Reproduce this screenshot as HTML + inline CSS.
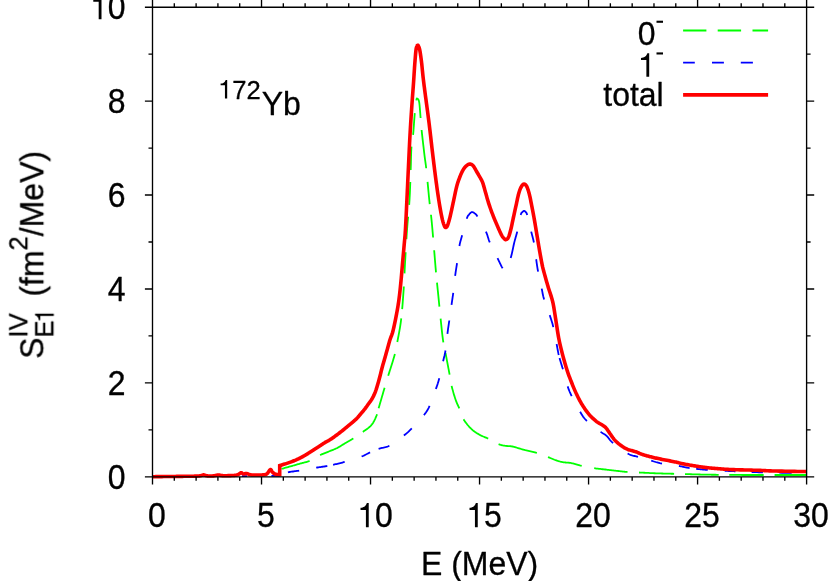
<!DOCTYPE html><html><head><meta charset="utf-8"><title>plot</title>
<style>html,body{margin:0;padding:0;background:#fff;}svg{display:block;}text{font-family:"Liberation Sans",sans-serif;fill:#000;}</style></head><body>
<svg width="830" height="581" viewBox="0 0 830 581">
<rect width="830" height="581" fill="#fff"/>
<g fill="none" stroke-linejoin="miter" stroke-miterlimit="3" stroke-linecap="butt">
<path d="M281.50,468.90 L282.09,468.73 L282.83,468.52 L283.72,468.27 L284.71,467.98 L285.78,467.67 L286.91,467.35 L288.07,467.02 L289.24,466.69 L290.38,466.36 L291.47,466.05 L292.49,465.76 L293.40,465.50 L294.24,465.26 L295.04,465.04 L295.81,464.82 L296.55,464.62 L297.27,464.42 L297.97,464.23 L298.65,464.04 L299.33,463.85 L300.00,463.66 L300.66,463.48 L301.33,463.29 L302.00,463.10 L302.66,462.92 L303.29,462.76 L303.90,462.62 L304.50,462.49 L305.09,462.35 L305.68,462.21 L306.28,462.06 L306.89,461.89 L307.52,461.70 L308.18,461.47 L308.87,461.21 L309.60,460.90 M320.10,455.10 L320.85,454.74 L321.57,454.41 L322.26,454.11 L322.93,453.83 L323.58,453.56 L324.22,453.31 L324.85,453.07 L325.48,452.83 L326.12,452.59 L326.76,452.34 L327.42,452.08 L328.10,451.80 L328.80,451.52 L329.50,451.23 L330.21,450.96 L330.92,450.68 L331.64,450.40 L332.36,450.11 L333.08,449.82 L333.80,449.52 L334.53,449.21 L335.25,448.89 L335.98,448.55 L336.70,448.20 L337.42,447.83 L338.15,447.43 L338.88,447.02 L339.62,446.60 L340.35,446.16 L341.09,445.72 L341.82,445.27 L342.55,444.83 L343.27,444.38 L343.99,443.94 L344.70,443.52 L345.40,443.10 L346.09,442.70 L346.76,442.31 L347.41,441.94 L348.06,441.57 L348.71,441.20 L349.35,440.84 L350.00,440.47 L350.65,440.09 L351.31,439.69 L351.99,439.28 L352.68,438.85 L353.40,438.40 M362.90,431.90 L363.65,431.35 L364.41,430.82 L365.16,430.28 L365.91,429.75 L366.66,429.21 L367.39,428.67 L368.11,428.13 L368.81,427.57 L369.48,427.01 L370.12,426.42 L370.73,425.82 L371.30,425.20 L371.83,424.55 L372.33,423.89 L372.81,423.20 L373.25,422.50 L373.67,421.78 L374.07,421.06 L374.45,420.33 L374.80,419.59 L375.15,418.86 L375.47,418.13 L375.79,417.41 L376.10,416.70 L376.38,416.04 L376.61,415.43 L376.80,414.88 L376.97,414.34 M378.60,408.30 L378.99,406.99 L379.43,405.49 L379.91,403.83 L380.43,402.05 L380.97,400.19 L381.53,398.28 L382.09,396.35 L382.65,394.45 L383.19,392.61 L383.70,390.86 L384.17,389.25 L384.60,387.80 M388.20,375.80 L388.66,374.30 L389.19,372.63 L389.76,370.83 L390.36,368.93 L390.99,366.96 L391.62,364.96 L392.26,362.95 L392.87,360.98 L393.45,359.08 L394.00,357.27 L394.48,355.60 L394.90,354.10 M397.30,342.00 L397.57,340.56 L397.86,339.05 L398.16,337.46 L398.48,335.80 L398.81,334.08 L399.14,332.30 L399.48,330.46 L399.81,328.56 L400.13,326.62 L400.44,324.62 L400.73,322.58 L401.00,320.50 L401.25,318.36 M402.17,309.11 L402.38,306.67 L402.58,304.19 L402.77,301.69 L402.96,299.17 L403.14,296.65 L403.32,294.12 L403.50,291.60 L403.67,289.07 L403.83,286.51 M404.52,273.40 L404.65,270.75 L404.78,268.10 L404.91,265.46 L405.05,262.82 L405.20,260.20 L405.35,257.58 L405.50,254.95 L405.65,252.31 M406.42,239.15 L406.59,236.55 L406.75,233.98 L406.92,231.42 L407.10,228.90 L407.29,226.41 L407.48,223.96 L407.69,221.53 L407.91,219.13 L408.13,216.74 M409.16,204.85 L409.34,202.44 L409.50,200.00 L409.64,197.51 L409.78,194.97 L409.90,192.39 L410.01,189.79 L410.11,187.17 L410.21,184.57 L410.30,181.99 M410.70,170.00 L410.77,167.86 L410.83,165.77 L410.89,163.73 L410.93,161.75 L410.98,159.82 L411.02,157.95 L411.06,156.14 L411.11,154.39 L411.17,152.69 L411.23,151.06 L411.31,149.50 L411.40,148.00 L411.51,146.62 M413.10,134.80 L413.24,133.26 L413.39,131.57 L413.53,129.76 L413.67,127.86 L413.82,125.91 L413.96,123.92 L414.11,121.93 L414.25,119.98 L414.39,118.09 L414.53,116.29 L414.67,114.62 L414.80,113.10 M416.30,100.40 L416.40,99.86 L416.50,99.42 L416.59,99.08 L416.67,98.82 L416.75,98.64 L416.83,98.53 L416.91,98.48 L417.00,98.47 L417.09,98.49 L417.18,98.55 L417.29,98.62 L417.40,98.70 L417.53,98.78 L417.66,98.85 L417.81,98.94 L417.96,99.06 L418.12,99.21 L418.28,99.41 L418.44,99.67 L418.60,100.01 L418.76,100.42 L418.92,100.94 L419.06,101.56 L419.20,102.30 L419.33,103.20 L419.46,104.26 L419.59,105.46 L419.71,106.77 L419.83,108.17 L419.95,109.62 L420.07,111.11 L420.18,112.59 L420.29,114.05 L420.39,115.46 L420.50,116.78 L420.60,118.00 M421.60,130.00 L421.78,131.68 L421.98,133.57 L422.21,135.64 L422.46,137.84 L422.72,140.14 L422.99,142.48 L423.27,144.84 L423.54,147.16 L423.80,149.41 L424.05,151.54 L424.29,153.52 L424.50,155.30 L424.69,156.85 L424.86,158.19 L425.02,159.36 L425.17,160.42 L425.31,161.40 L425.45,162.36 L425.59,163.33 L425.73,164.36 L425.88,165.50 L426.04,166.79 L426.21,168.27 M427.56,181.84 L427.82,184.56 L428.08,187.31 L428.33,190.05 L428.59,192.72 L428.83,195.30 L429.07,197.74 L429.30,200.00 L429.52,202.10 L429.73,204.10 M430.96,214.77 L431.15,216.47 L431.33,218.18 L431.52,219.92 L431.70,221.70 L431.87,223.49 L432.04,225.23 L432.20,226.96 L432.35,228.67 L432.50,230.38 L432.65,232.10 L432.80,233.85 L432.95,235.63 L433.10,237.47 M434.16,250.23 L434.36,252.68 L434.56,255.17 L434.77,257.70 L434.97,260.23 L435.18,262.76 L435.39,265.24 L435.59,267.68 L435.80,270.04 L436.00,272.30 M437.00,282.68 L437.20,284.65 L437.40,286.60 L437.60,288.54 L437.80,290.49 L438.00,292.44 L438.20,294.41 L438.40,296.40 L438.60,298.42 L438.80,300.47 L439.00,302.53 L439.21,304.60 L439.41,306.67 M440.61,318.65 L440.80,320.50 L440.99,322.31 L441.17,324.09 L441.36,325.85 L441.54,327.59 L441.72,329.29 L441.89,330.95 L442.07,332.58 L442.25,334.16 L442.43,335.70 L442.62,337.19 L442.81,338.62 L443.00,340.00 L443.19,341.28 L443.38,342.43 M445.50,352.90 L445.79,354.43 L446.12,356.13 L446.46,357.95 L446.83,359.87 L447.20,361.84 L447.58,363.85 L447.96,365.85 L448.33,367.81 L448.69,369.70 L449.02,371.48 L449.33,373.13 L449.60,374.60 M451.60,385.90 L451.87,387.00 L452.17,388.15 L452.49,389.36 L452.83,390.60 L453.18,391.87 L453.55,393.13 L453.92,394.39 L454.29,395.62 L454.66,396.81 L455.02,397.95 L455.37,399.02 L455.70,400.00 L456.02,400.89 L456.32,401.70 L456.62,402.44 L456.91,403.13 L457.20,403.78 L457.49,404.40 L457.78,405.01 L458.07,405.63 L458.36,406.26 L458.67,406.92 L458.98,407.63 L459.30,408.40 M463.60,419.30 L464.12,420.16 L464.68,421.02 L465.27,421.88 L465.89,422.73 L466.53,423.57 L467.19,424.41 L467.86,425.22 L468.55,426.01 L469.24,426.78 L469.93,427.52 L470.62,428.23 L471.30,428.90 L471.98,429.53 L472.67,430.13 L473.37,430.71 L474.08,431.25 L474.79,431.77 L475.51,432.27 L476.22,432.75 L476.94,433.20 L477.66,433.65 L478.38,434.07 L479.09,434.49 L479.80,434.90 L480.50,435.28 L481.18,435.63 L481.86,435.94 L482.53,436.24 L483.21,436.51 L483.88,436.78 L484.56,437.05 L485.26,437.32 L485.96,437.60 L486.69,437.91 L487.43,438.24 L488.20,438.60 M498.60,444.10 L499.28,444.38 L499.90,444.61 L500.48,444.82 L501.03,444.99 L501.55,445.13 L502.05,445.25 L502.54,445.35 L503.03,445.45 L503.52,445.53 L504.02,445.62 L504.55,445.71 L505.10,445.80 L505.66,445.88 L506.20,445.94 L506.74,445.98 L507.27,446.01 L507.81,446.03 L508.36,446.04 L508.92,446.07 L509.52,446.10 L510.15,446.16 L510.81,446.24 L511.53,446.35 L512.30,446.50 L513.13,446.69 L514.02,446.91 L514.95,447.17 L515.92,447.44 L516.93,447.74 L517.96,448.05 L519.01,448.37 L520.08,448.69 L521.15,449.01 L522.21,449.32 L523.26,449.62 L524.30,449.90 L525.33,450.17 L526.38,450.42 L527.44,450.67 L528.51,450.92 L529.58,451.16 L530.66,451.41 L531.73,451.65 L532.79,451.90 L533.84,452.16 L534.88,452.43 L535.90,452.71 L536.90,453.00 M548.00,457.10 L548.76,457.40 L549.49,457.69 L550.18,457.97 L550.84,458.25 L551.47,458.52 L552.09,458.78 L552.70,459.04 L553.30,459.29 L553.89,459.53 L554.48,459.76 L555.09,459.98 L555.70,460.20 L556.31,460.41 L556.92,460.61 L557.51,460.80 L558.09,460.99 L558.67,461.17 L559.26,461.34 L559.84,461.50 L560.43,461.66 L561.03,461.80 L561.64,461.94 L562.26,462.08 L562.90,462.20 L563.55,462.31 L564.21,462.39 L564.87,462.46 L565.54,462.51 L566.21,462.56 L566.90,462.61 L567.60,462.65 L568.31,462.71 L569.03,462.77 L569.77,462.86 L570.53,462.97 L571.30,463.10 L572.09,463.26 L572.89,463.45 L573.71,463.66 L574.54,463.88 L575.39,464.11 L576.24,464.36 L577.12,464.61 L578.00,464.86 L578.91,465.10 L579.82,465.35 L580.75,465.58 L581.70,465.80 M594.20,468.20 L595.35,468.37 L596.53,468.53 L597.74,468.68 L598.98,468.83 L600.23,468.97 L601.48,469.11 L602.73,469.25 L603.98,469.38 L605.20,469.51 L606.40,469.64 L607.57,469.77 L608.70,469.90 L609.80,470.03 L610.90,470.16 L612.00,470.29 L613.08,470.41 L614.14,470.54 L615.18,470.66 L616.20,470.78 L617.18,470.90 L618.12,471.01 L619.03,471.11 L619.89,471.21 L620.70,471.30 L621.43,471.38 L622.08,471.46 L622.66,471.53 L623.18,471.59 L623.66,471.65 L624.13,471.71 L624.60,471.76 L625.08,471.81 L625.59,471.86 L626.15,471.90 L626.79,471.95 L627.50,472.00 M639.00,472.50 L640.22,472.56 L641.50,472.62 L642.84,472.69 L644.22,472.76 L645.64,472.83 L647.09,472.90 L648.56,472.97 L650.05,473.04 L651.54,473.11 L653.04,473.18 L654.53,473.24 L656.00,473.30 L657.49,473.35 L659.04,473.40 L660.62,473.45 L662.22,473.50 L663.83,473.54 L665.43,473.58 L667.01,473.62 L668.56,473.66 L670.06,473.70 L671.49,473.73 L672.84,473.77 L674.10,473.80 M685.00,474.10 L686.32,474.14 L687.77,474.18 L689.33,474.22 L690.96,474.26 L692.65,474.31 L694.38,474.36 L696.11,474.40 L697.84,474.45 L699.54,474.49 L701.18,474.53 L702.74,474.57 L704.20,474.60 L705.52,474.63 L706.69,474.65 L707.76,474.67 L708.76,474.69 L709.72,474.70 L710.69,474.72 L711.71,474.73 L712.80,474.74 L714.00,474.76 L715.37,474.77 L716.92,474.78 L718.70,474.80 M729.28,474.89 L731.73,474.91 L734.33,474.93 L737.09,474.95 L740.02,474.96 L743.14,474.98 L746.46,474.99 L750.00,475.00 L754.00,475.01 L758.60,475.01 L763.66,475.01 M774.58,475.01 L780.16,475.01 L785.63,475.01 L790.85,475.01 L795.68,475.00 L799.97,475.00 L803.59,475.00 L806.40,475.00" stroke="#00ff00" stroke-width="1.80"/>
<path d="M241.9,476.1H247M271.4,475.8H279.8 M287.90,472.30 L288.69,472.14 L289.50,472.00 L290.32,471.86 L291.17,471.73 L292.05,471.61 L292.96,471.49 L293.90,471.36 L294.87,471.23 L295.89,471.10 L296.94,470.95 L298.05,470.78 L299.20,470.60 M316.20,467.70 L317.35,467.51 L318.45,467.34 L319.51,467.18 L320.53,467.03 L321.51,466.88 L322.45,466.74 L323.35,466.61 L324.21,466.49 L325.04,466.36 L325.82,466.24 L326.58,466.12 L327.30,466.00 M333.10,464.80 L333.85,464.62 L334.65,464.44 L335.49,464.24 L336.38,464.04 L337.30,463.82 L338.27,463.59 L339.27,463.34 L340.30,463.09 L341.36,462.81 L342.45,462.52 L343.56,462.22 L344.70,461.90 M361.62,456.50 L362.57,456.11 L363.45,455.72 L364.28,455.33 L365.06,454.94 L365.81,454.56 L366.54,454.19 L367.24,453.81 L367.95,453.45 L368.65,453.09 L369.36,452.74 L370.10,452.40 M378.60,448.80 L379.41,448.55 L380.22,448.34 L381.05,448.16 L381.89,447.99 L382.75,447.83 L383.63,447.66 L384.52,447.47 L385.44,447.24 L386.39,446.96 L387.36,446.62 L388.36,446.21 L389.40,445.70 M403.90,435.50 L404.78,434.81 L405.55,434.20 L406.24,433.63 L406.87,433.10 L407.45,432.59 L408.00,432.09 L408.54,431.57 L409.10,431.03 L409.68,430.45 L410.32,429.81 L411.02,429.10 L411.80,428.30 M423.90,415.10 L424.60,414.22 L425.21,413.42 L425.76,412.70 L426.25,412.02 L426.70,411.37 L427.11,410.73 L427.51,410.08 L427.89,409.39 L428.28,408.65 L428.69,407.83 L429.12,406.92 L429.60,405.90 M435.90,389.00 L436.28,387.91 L436.63,386.92 L436.94,386.01 L437.23,385.17 L437.50,384.38 L437.76,383.60 L438.00,382.82 L438.24,382.03 L438.49,381.19 L438.74,380.28 L439.01,379.29 L439.30,378.20 M443.10,361.30 L443.35,360.21 L443.58,359.23 L443.81,358.34 L444.01,357.51 L444.21,356.73 L444.41,355.97 L444.59,355.20 L444.77,354.41 L444.95,353.56 L445.13,352.65 L445.31,351.63 L445.50,350.50 M447.44,333.81 L447.60,332.50 L447.75,331.31 L447.90,330.21 L448.04,329.19 L448.17,328.24 L448.30,327.32 L448.43,326.43 L448.56,325.54 L448.70,324.64 L448.84,323.70 L448.98,322.71 L449.14,321.65 L449.30,320.50 M451.52,304.85 L451.70,303.60 L451.87,302.44 L452.02,301.37 L452.17,300.37 L452.31,299.42 L452.45,298.50 L452.58,297.60 L452.71,296.70 L452.84,295.78 L452.98,294.83 L453.11,293.83 L453.25,292.76 M455.14,275.98 L455.30,274.70 L455.46,273.51 L455.61,272.38 L455.77,271.31 L455.92,270.28 L456.08,269.28 L456.23,268.29 L456.39,267.31 L456.54,266.32 L456.70,265.31 L456.87,264.26 L457.03,263.16 M459.40,246.00 L459.59,245.00 L459.76,244.12 L459.93,243.34 L460.09,242.62 L460.26,241.95 L460.43,241.30 L460.61,240.64 L460.81,239.96 L461.02,239.21 L461.25,238.39 L461.51,237.46 L461.80,236.40 L462.13,235.17 M466.70,218.80 L466.98,217.98 L467.23,217.30 L467.45,216.77 L467.64,216.34 L467.82,216.01 L467.98,215.76 L468.14,215.55 L468.29,215.38 L468.45,215.22 L468.62,215.05 L468.80,214.85 L469.00,214.60 L469.22,214.32 L469.44,214.04 L469.66,213.77 L469.90,213.50 L470.13,213.25 L470.37,213.01 L470.61,212.79 L470.85,212.60 L471.09,212.42 L471.33,212.28 L471.57,212.17 L471.80,212.10 L472.03,212.06 L472.27,212.06 L472.50,212.09 L472.73,212.15 L472.96,212.23 L473.19,212.34 L473.43,212.46 L473.66,212.61 L473.89,212.77 L474.13,212.94 L474.36,213.11 L474.60,213.30 L474.82,213.46 L475.01,213.59 L475.19,213.70 L475.36,213.81 L475.52,213.93 L475.70,214.09 L475.90,214.29 L476.12,214.56 L476.39,214.90 L476.70,215.35 L477.07,215.91 L477.50,216.60 M485.90,231.60 L486.37,232.63 L486.77,233.59 L487.10,234.48 L487.39,235.33 L487.65,236.15 L487.89,236.96 L488.13,237.77 L488.39,238.59 L488.66,239.45 L488.98,240.37 L489.36,241.34 L489.80,242.40 M497.50,258.10 L498.01,259.13 L498.48,260.12 L498.93,261.07 L499.36,261.97 L499.77,262.84 L500.16,263.66 L500.53,264.43 L500.90,265.17 L501.25,265.86 L501.60,266.52 L501.95,267.13 L502.30,267.70 L502.64,268.26 M510.70,258.10 L511.04,256.86 L511.38,255.57 L511.70,254.24 L512.01,252.87 L512.32,251.49 L512.62,250.10 L512.91,248.72 L513.20,247.36 L513.48,246.04 L513.75,244.76 L514.03,243.54 L514.30,242.40 L514.56,241.35 L514.82,240.38 L515.06,239.49 L515.30,238.65 L515.53,237.84 L515.76,237.05 L515.98,236.26 L516.21,235.44 L516.45,234.59 L516.69,233.67 L516.94,232.68 L517.20,231.60 M520.70,215.10 L520.90,214.38 L521.07,213.81 L521.23,213.38 L521.37,213.07 L521.49,212.85 L521.61,212.70 L521.72,212.61 L521.82,212.54 L521.93,212.49 L522.04,212.43 L522.17,212.34 L522.30,212.20 L522.44,212.03 L522.59,211.86 L522.74,211.70 L522.89,211.55 L523.04,211.41 L523.19,211.29 L523.35,211.18 L523.50,211.08 L523.65,211.00 L523.80,210.95 L523.95,210.91 L524.10,210.90 L524.25,210.91 L524.39,210.95 L524.54,211.00 L524.69,211.08 L524.83,211.18 L524.98,211.29 L525.12,211.41 L525.26,211.55 L525.40,211.70 L525.54,211.86 L525.67,212.03 L525.80,212.20 L525.92,212.34 L526.02,212.43 L526.11,212.49 L526.19,212.54 L526.27,212.61 L526.36,212.70 L526.45,212.85 L526.55,213.07 L526.67,213.38 L526.82,213.81 L526.99,214.38 L527.20,215.10 M531.20,231.60 L531.48,232.75 L531.76,233.83 L532.03,234.86 L532.29,235.84 L532.54,236.79 L532.78,237.72 L533.02,238.65 L533.25,239.58 L533.47,240.53 L533.69,241.51 L533.90,242.53 M536.16,259.25 L536.32,260.38 L536.48,261.49 L536.63,262.58 L536.78,263.66 L536.94,264.75 L537.11,265.84 L537.28,266.96 L537.46,268.09 L537.66,269.25 L537.87,270.45 L538.10,271.70 M541.70,288.60 L541.93,289.69 L542.13,290.68 L542.30,291.59 L542.46,292.43 L542.60,293.22 L542.75,294.00 L542.91,294.78 L543.08,295.57 L543.27,296.41 L543.51,297.32 L543.78,298.31 L544.10,299.40 M549.69,315.09 L550.10,316.30 L550.46,317.39 L550.79,318.38 L551.09,319.29 L551.37,320.13 L551.63,320.92 L551.87,321.70 L552.10,322.48 L552.33,323.27 L552.56,324.11 L552.79,325.02 L553.04,326.01 L553.30,327.10 M556.60,344.00 L556.83,345.17 L557.03,346.27 L557.23,347.31 L557.41,348.31 L557.59,349.28 L557.76,350.23 L557.94,351.16 L558.12,352.09 L558.32,353.02 L558.52,353.98 L558.75,354.97 M559.56,358.11 L559.86,359.17 L560.17,360.24 L560.49,361.31 L560.83,362.40 L561.16,363.50 L561.51,364.62 L561.85,365.75 L562.20,366.91 L562.55,368.09 L562.90,369.30 M567.65,386.37 L567.99,387.34 L568.31,388.25 L568.62,389.10 L568.93,389.92 L569.25,390.72 L569.58,391.52 L569.94,392.33 L570.32,393.18 L570.74,394.08 L571.19,395.04 L571.70,396.10 M580.10,411.80 L580.70,412.79 L581.25,413.69 L581.75,414.52 L582.23,415.29 L582.70,416.01 L583.17,416.71 L583.66,417.38 L584.18,418.06 L584.75,418.74 L585.39,419.45 L586.10,420.20 L586.90,421.00 M600.60,431.80 L601.37,432.37 L602.04,432.84 L602.63,433.22 L603.15,433.55 L603.62,433.83 L604.05,434.07 L604.45,434.31 L604.85,434.55 L605.25,434.81 L605.66,435.11 L606.11,435.47 L606.60,435.90 L607.10,436.38 L607.56,436.88 L608.00,437.41 L608.43,437.95 L608.87,438.52 L609.32,439.11 L609.80,439.72 L610.32,440.35 L610.90,441.00 L611.55,441.68 L612.28,442.38 L613.10,443.10 M627.60,453.50 L628.60,454.03 L629.54,454.47 L630.42,454.83 L631.27,455.14 L632.08,455.39 L632.88,455.61 L633.68,455.81 L634.48,456.00 L635.30,456.19 L636.15,456.39 L637.05,456.62 L638.00,456.90 M651.20,460.70 L652.16,460.97 L653.07,461.24 L653.93,461.50 L654.75,461.75 L655.56,462.00 L656.37,462.24 L657.19,462.47 L658.04,462.70 L658.93,462.93 L659.87,463.16 L660.89,463.38 L662.00,463.60 M678.90,466.00 L679.89,466.17 L680.78,466.33 L681.57,466.49 L682.28,466.64 L682.94,466.78 L683.55,466.92 L684.14,467.06 L684.72,467.20 L685.31,467.33 L685.92,467.45 L686.58,467.58 L687.30,467.70 L688.06,467.82 L688.83,467.93 L689.61,468.04 M696.15,468.81 L697.00,468.90 L697.84,468.99 L698.67,469.08 L699.48,469.17 L700.29,469.25 L701.11,469.34 L701.95,469.42 L702.81,469.50 L703.71,469.58 L704.65,469.66 L705.63,469.74 L706.68,469.82 L707.80,469.90 M724.70,470.80 L725.80,470.86 L726.81,470.90 L727.74,470.95 L728.61,470.99 L729.45,471.03 L730.25,471.06 L731.05,471.10 L731.85,471.13 L732.68,471.17 L733.56,471.21 L734.49,471.25 L735.50,471.30 M751.64,472.05 L753.35,472.11 L755.14,472.16 L756.99,472.21 L758.90,472.26 L760.88,472.31 L762.92,472.36 M779.29,472.71 L782.27,472.76 L785.38,472.82 L788.55,472.88 L791.70,472.94" stroke="#0000ff" stroke-width="1.80"/>
<path d="M152.50,476.70 L153.35,476.69 L154.43,476.68 L155.70,476.66 L157.13,476.65 L158.68,476.63 L160.31,476.61 L162.00,476.59 L163.70,476.57 L165.39,476.55 L167.03,476.54 L168.57,476.52 L170.00,476.50 L171.35,476.48 L172.68,476.47 L174.00,476.45 L175.30,476.43 L176.58,476.42 L177.84,476.40 L179.09,476.38 L180.31,476.37 L181.52,476.35 L182.70,476.33 L183.86,476.32 L185.00,476.30 L186.13,476.28 L187.27,476.27 L188.40,476.26 L189.52,476.24 L190.62,476.23 L191.69,476.22 L192.72,476.20 L193.70,476.19 L194.63,476.17 L195.50,476.15 L196.29,476.13 L197.00,476.10 L197.62,476.07 L198.15,476.04 L198.60,476.00 L198.98,475.96 L199.30,475.92 L199.59,475.88 L199.84,475.84 L200.07,475.79 L200.29,475.75 L200.51,475.70 L200.74,475.65 L201.00,475.60 L201.27,475.54 L201.52,475.48 L201.75,475.41 L201.98,475.33 L202.19,475.25 L202.40,475.18 L202.60,475.10 L202.80,475.04 L203.00,474.98 L203.19,474.94 L203.39,474.91 L203.60,474.90 L203.81,474.91 L204.00,474.94 L204.20,474.98 L204.39,475.04 L204.58,475.11 L204.77,475.18 L204.97,475.26 L205.16,475.34 L205.36,475.41 L205.57,475.48 L205.78,475.55 L206.00,475.60 L206.22,475.65 L206.44,475.69 L206.66,475.74 L206.88,475.78 L207.11,475.82 L207.34,475.86 L207.58,475.89 L207.83,475.92 L208.10,475.95 L208.38,475.97 L208.68,475.99 L209.00,476.00 L209.35,476.01 L209.73,476.01 L210.13,476.01 L210.54,476.00 L210.98,475.99 L211.42,475.98 L211.87,475.96 L212.31,475.93 L212.75,475.91 L213.18,475.87 L213.60,475.84 L214.00,475.80 L214.38,475.75 L214.76,475.69 L215.14,475.61 L215.51,475.53 L215.87,475.44 L216.23,475.35 L216.59,475.26 L216.94,475.19 L217.28,475.12 L217.63,475.06 L217.96,475.02 L218.30,475.00 L218.63,475.00 L218.95,475.02 L219.26,475.06 L219.57,475.11 L219.87,475.18 L220.18,475.24 L220.47,475.31 L220.77,475.39 L221.08,475.45 L221.38,475.51 L221.69,475.56 L222.00,475.60 L222.30,475.63 L222.59,475.65 L222.86,475.67 L223.12,475.69 L223.38,475.70 L223.66,475.71 L223.95,475.71 L224.26,475.71 L224.60,475.71 L224.99,475.71 L225.42,475.71 L225.90,475.70 L226.46,475.69 L227.09,475.68 L227.79,475.66 L228.54,475.65 L229.32,475.63 L230.11,475.61 L230.91,475.58 L231.68,475.55 L232.43,475.52 L233.12,475.48 L233.75,475.44 L234.30,475.40 L234.77,475.35 L235.20,475.31 L235.57,475.26 L235.90,475.21 L236.21,475.15 L236.48,475.09 L236.74,475.03 L236.99,474.96 L237.23,474.88 L237.47,474.80 L237.73,474.70 L238.00,474.60 L238.28,474.48 L238.56,474.32 L238.83,474.15 L239.10,473.96 L239.36,473.77 L239.62,473.58 L239.88,473.39 L240.13,473.21 L240.38,473.06 L240.62,472.94 L240.86,472.85 L241.10,472.80 L241.33,472.80 L241.55,472.85 L241.76,472.93 L241.96,473.04 L242.16,473.17 L242.36,473.32 L242.56,473.47 L242.76,473.61 L242.96,473.75 L243.17,473.86 L243.38,473.95 L243.60,474.00 L243.82,474.01 L244.04,473.99 L244.25,473.95 L244.47,473.89 L244.69,473.82 L244.91,473.74 L245.14,473.66 L245.39,473.59 L245.64,473.53 L245.91,473.49 L246.19,473.48 L246.50,473.50 L246.82,473.55 L247.14,473.64 L247.46,473.75 L247.80,473.87 L248.14,474.01 L248.51,474.16 L248.89,474.31 L249.29,474.46 L249.72,474.60 L250.18,474.72 L250.67,474.82 L251.20,474.90 L251.78,474.96 L252.42,475.00 L253.11,475.03 L253.83,475.05 L254.58,475.06 L255.34,475.06 L256.11,475.06 L256.87,475.05 L257.61,475.04 L258.32,475.03 L258.99,475.01 L259.60,475.00 L260.18,474.99 L260.73,474.97 L261.27,474.96 L261.80,474.94 L262.30,474.92 L262.78,474.89 L263.24,474.86 L263.68,474.83 L264.10,474.78 L264.49,474.73 L264.86,474.67 L265.20,474.60 L265.51,474.53 L265.77,474.45 L265.99,474.37 L266.19,474.29 L266.36,474.20 L266.52,474.10 L266.67,473.99 L266.81,473.87 L266.96,473.73 L267.12,473.57 L267.30,473.40 L267.50,473.20 L267.72,472.96 L267.96,472.66 L268.20,472.31 L268.46,471.94 L268.71,471.55 L268.97,471.16 L269.23,470.79 L269.48,470.44 L269.72,470.13 L269.96,469.88 L270.19,469.70 L270.40,469.60 L270.60,469.59 L270.79,469.66 L270.98,469.80 L271.15,469.99 L271.32,470.23 L271.49,470.49 L271.65,470.77 L271.80,471.05 L271.96,471.33 L272.11,471.59 L272.25,471.82 L272.40,472.00 L272.54,472.15 L272.67,472.30 L272.80,472.43 L272.91,472.56 L273.03,472.68 L273.14,472.79 L273.26,472.90 L273.37,473.01 L273.49,473.11 L273.62,473.21 L273.76,473.30 L273.90,473.40 L274.05,473.49 L274.20,473.59 L274.35,473.67 L274.50,473.76 L274.65,473.84 L274.81,473.92 L274.98,473.99 L275.16,474.06 L275.35,474.13 L275.55,474.19 L275.77,474.25 L276.00,474.30 L276.26,474.35 L276.57,474.39 L276.90,474.42 L277.25,474.46 L277.62,474.48 L277.98,474.51 L278.34,474.53 L278.68,474.54 L279.00,474.56 L279.28,474.57 L279.52,474.59 L279.70,474.60 L279.70,474.60 L279.70,465.60 L279.70,465.60 L280.08,465.48 L280.55,465.34 L281.10,465.17 L281.72,464.98 L282.39,464.78 L283.11,464.56 L283.85,464.32 L284.61,464.09 L285.38,463.84 L286.15,463.59 L286.89,463.34 L287.60,463.10 L288.30,462.86 L289.00,462.61 L289.72,462.36 L290.44,462.10 L291.17,461.84 L291.91,461.57 L292.64,461.29 L293.38,461.01 L294.11,460.72 L294.85,460.42 L295.58,460.12 L296.30,459.80 L297.02,459.47 L297.75,459.13 L298.49,458.78 L299.22,458.42 L299.96,458.05 L300.69,457.68 L301.41,457.30 L302.13,456.92 L302.84,456.54 L303.54,456.16 L304.23,455.78 L304.90,455.40 L305.55,455.02 L306.19,454.64 L306.82,454.26 L307.43,453.88 L308.04,453.50 L308.64,453.11 L309.23,452.73 L309.82,452.34 L310.41,451.95 L311.00,451.57 L311.60,451.18 L312.20,450.80 L312.81,450.41 L313.42,450.02 L314.04,449.63 L314.66,449.24 L315.28,448.84 L315.89,448.45 L316.50,448.06 L317.11,447.67 L317.70,447.29 L318.28,446.92 L318.85,446.56 L319.40,446.20 L319.94,445.85 L320.46,445.51 L320.97,445.17 L321.47,444.83 L321.97,444.50 L322.45,444.18 L322.93,443.86 L323.39,443.56 L323.85,443.25 L324.31,442.96 L324.76,442.68 L325.20,442.40 L325.62,442.15 L326.01,441.93 L326.38,441.73 L326.73,441.54 L327.08,441.37 L327.43,441.19 L327.78,441.01 L328.16,440.81 L328.56,440.59 L328.99,440.33 L329.47,440.04 L330.00,439.70 L330.58,439.31 L331.21,438.89 L331.88,438.43 L332.59,437.95 L333.31,437.44 L334.06,436.91 L334.82,436.37 L335.59,435.82 L336.36,435.26 L337.12,434.70 L337.87,434.15 L338.60,433.60 L339.32,433.05 L340.03,432.50 L340.75,431.94 L341.47,431.37 L342.18,430.80 L342.90,430.23 L343.62,429.64 L344.33,429.06 L345.05,428.47 L345.77,427.88 L346.48,427.29 L347.20,426.70 L347.93,426.10 L348.68,425.48 L349.45,424.84 L350.23,424.20 L351.00,423.56 L351.77,422.92 L352.52,422.28 L353.25,421.66 L353.95,421.06 L354.62,420.48 L355.23,419.92 L355.80,419.40 L356.31,418.91 L356.77,418.46 L357.18,418.03 L357.55,417.63 L357.90,417.24 L358.22,416.86 L358.53,416.49 L358.83,416.13 L359.13,415.76 L359.43,415.39 L359.76,415.00 L360.10,414.60 L360.46,414.19 L360.82,413.77 L361.18,413.36 L361.54,412.94 L361.90,412.52 L362.26,412.10 L362.62,411.68 L362.98,411.25 L363.34,410.82 L363.69,410.38 L364.05,409.94 L364.40,409.50 L364.75,409.05 L365.10,408.59 L365.46,408.12 L365.81,407.64 L366.16,407.17 L366.51,406.69 L366.85,406.21 L367.19,405.73 L367.53,405.26 L367.86,404.80 L368.18,404.34 L368.50,403.90 L368.81,403.47 L369.11,403.06 L369.41,402.65 L369.70,402.26 L369.99,401.86 L370.27,401.47 L370.55,401.08 L370.82,400.69 L371.09,400.29 L371.36,399.87 L371.63,399.44 L371.90,399.00 L372.17,398.54 L372.43,398.08 L372.69,397.61 L372.95,397.13 L373.21,396.64 L373.46,396.14 L373.71,395.64 L373.96,395.13 L374.20,394.61 L374.44,394.08 L374.67,393.55 L374.90,393.00 L375.12,392.45 L375.33,391.88 L375.54,391.31 L375.74,390.74 L375.94,390.15 L376.14,389.56 L376.33,388.95 L376.52,388.34 L376.71,387.72 L376.91,387.09 L377.10,386.45 L377.30,385.80 L377.50,385.14 L377.70,384.47 L377.90,383.79 L378.10,383.10 L378.30,382.41 L378.50,381.70 L378.70,380.99 L378.90,380.26 L379.10,379.53 L379.30,378.80 L379.50,378.05 L379.70,377.30 L379.90,376.53 L380.10,375.75 L380.30,374.95 L380.50,374.14 L380.70,373.32 L380.90,372.49 L381.10,371.67 L381.30,370.85 L381.50,370.04 L381.70,369.24 L381.90,368.46 L382.10,367.70 L382.30,366.96 L382.50,366.23 L382.70,365.52 L382.90,364.81 L383.10,364.12 L383.30,363.43 L383.50,362.75 L383.70,362.06 L383.90,361.38 L384.10,360.69 L384.30,360.00 L384.50,359.30 L384.70,358.60 L384.89,357.92 L385.09,357.24 L385.28,356.56 L385.47,355.88 L385.66,355.20 L385.86,354.51 L386.06,353.81 L386.26,353.09 L386.47,352.35 L386.68,351.59 L386.90,350.80 L387.13,349.97 L387.37,349.11 L387.61,348.21 L387.86,347.30 L388.11,346.36 L388.36,345.42 L388.62,344.47 L388.88,343.54 L389.14,342.61 L389.39,341.71 L389.65,340.84 L389.90,340.00 L390.15,339.22 L390.39,338.51 L390.64,337.85 L390.88,337.22 L391.12,336.60 L391.36,335.98 L391.61,335.34 L391.86,334.66 L392.11,333.92 L392.37,333.11 L392.63,332.21 L392.90,331.20 L393.18,330.07 L393.48,328.82 L393.79,327.49 L394.10,326.07 L394.42,324.61 L394.74,323.10 L395.05,321.57 L395.37,320.05 L395.67,318.54 L395.96,317.07 L396.24,315.65 L396.50,314.30 L396.74,313.02 L396.98,311.78 L397.20,310.58 L397.41,309.41 L397.61,308.25 L397.81,307.10 L398.00,305.95 L398.18,304.79 L398.36,303.62 L398.54,302.42 L398.72,301.18 L398.90,299.90 L399.08,298.59 L399.25,297.26 L399.41,295.91 L399.58,294.54 L399.74,293.16 L399.89,291.76 L400.05,290.34 L400.20,288.90 L400.35,287.45 L400.50,285.98 L400.65,284.50 L400.80,283.00 L400.95,281.48 L401.09,279.92 L401.24,278.34 L401.38,276.74 L401.52,275.12 L401.66,273.49 L401.80,271.86 L401.94,270.21 L402.08,268.57 L402.22,266.94 L402.36,265.31 L402.50,263.70 L402.64,262.08 L402.79,260.44 L402.94,258.78 L403.09,257.12 L403.23,255.45 L403.38,253.80 L403.53,252.16 L403.67,250.55 L403.81,248.97 L403.95,247.43 L404.08,245.94 L404.20,244.50 L404.32,243.18 L404.43,241.99 L404.53,240.91 L404.63,239.89 L404.72,238.91 L404.81,237.93 L404.90,236.90 L405.00,235.81 L405.09,234.60 L405.19,233.26 L405.29,231.74 L405.40,230.00 L405.51,228.04 L405.63,225.90 L405.76,223.59 L405.88,221.15 L406.01,218.60 L406.14,215.97 L406.27,213.28 L406.40,210.57 L406.52,207.86 L406.65,205.18 L406.78,202.55 L406.90,200.00 L407.02,197.52 L407.14,195.06 L407.25,192.62 L407.36,190.19 L407.48,187.75 L407.59,185.31 L407.70,182.85 L407.81,180.37 L407.93,177.85 L408.05,175.29 L408.17,172.68 L408.30,170.00 L408.43,167.24 L408.56,164.40 L408.70,161.48 L408.84,158.52 L408.98,155.52 L409.12,152.50 L409.26,149.48 L409.41,146.48 L409.55,143.52 L409.70,140.60 L409.85,137.76 L410.00,135.00 L410.15,132.30 L410.31,129.62 L410.47,126.96 L410.63,124.33 L410.79,121.73 L410.96,119.17 L411.12,116.67 L411.28,114.21 L411.44,111.81 L411.60,109.47 L411.75,107.20 L411.90,105.00 L412.05,102.88 L412.19,100.85 L412.33,98.89 L412.47,96.99 L412.61,95.15 L412.74,93.36 L412.88,91.61 L413.01,89.89 L413.14,88.20 L413.26,86.52 L413.38,84.86 L413.50,83.20 L413.61,81.55 L413.72,79.93 L413.83,78.33 L413.93,76.76 L414.03,75.21 L414.12,73.69 L414.22,72.19 L414.31,70.72 L414.41,69.28 L414.50,67.86 L414.60,66.47 L414.70,65.10 L414.80,63.74 L414.90,62.37 L415.01,61.00 L415.11,59.64 L415.22,58.32 L415.32,57.02 L415.42,55.78 L415.52,54.60 L415.62,53.49 L415.72,52.46 L415.81,51.53 L415.90,50.70 L415.99,49.99 L416.07,49.39 L416.15,48.89 L416.22,48.47 L416.30,48.12 L416.37,47.84 L416.44,47.60 L416.51,47.39 L416.58,47.19 L416.65,47.01 L416.73,46.81 L416.80,46.60 L416.87,46.38 L416.95,46.18 L417.02,45.99 L417.10,45.83 L417.17,45.68 L417.24,45.56 L417.32,45.45 L417.39,45.36 L417.47,45.29 L417.54,45.24 L417.62,45.21 L417.70,45.20 L417.78,45.21 L417.86,45.24 L417.94,45.29 L418.02,45.36 L418.10,45.45 L418.18,45.56 L418.26,45.68 L418.35,45.83 L418.43,45.99 L418.52,46.18 L418.61,46.38 L418.70,46.60 L418.79,46.82 L418.88,47.04 L418.97,47.25 L419.07,47.47 L419.16,47.72 L419.26,47.99 L419.35,48.29 L419.46,48.65 L419.56,49.06 L419.67,49.53 L419.78,50.07 L419.90,50.70 L420.02,51.42 L420.16,52.21 L420.29,53.09 L420.44,54.02 L420.58,55.01 L420.73,56.05 L420.88,57.12 L421.03,58.22 L421.18,59.34 L421.32,60.46 L421.46,61.59 L421.60,62.70 L421.73,63.82 L421.86,64.97 L421.98,66.15 L422.10,67.35 L422.22,68.57 L422.34,69.80 L422.46,71.04 L422.59,72.28 L422.71,73.52 L422.83,74.76 L422.97,75.99 L423.10,77.20 L423.24,78.41 L423.38,79.62 L423.53,80.83 L423.68,82.04 L423.83,83.26 L423.98,84.47 L424.13,85.68 L424.29,86.88 L424.44,88.07 L424.60,89.26 L424.75,90.44 L424.90,91.60 L425.05,92.73 L425.19,93.81 L425.33,94.87 L425.47,95.90 L425.61,96.92 L425.75,97.95 L425.89,99.00 L426.04,100.08 L426.19,101.21 L426.35,102.40 L426.52,103.66 L426.70,105.00 L426.89,106.42 L427.08,107.89 L427.29,109.42 L427.50,110.99 L427.71,112.61 L427.93,114.28 L428.15,115.98 L428.38,117.72 L428.61,119.49 L428.84,121.30 L429.07,123.14 L429.30,125.00 L429.53,126.93 L429.77,128.95 L430.02,131.04 L430.27,133.19 L430.52,135.37 L430.77,137.57 L431.02,139.76 L431.27,141.93 L431.51,144.06 L431.75,146.13 L431.98,148.11 L432.20,150.00 L432.41,151.79 L432.62,153.50 L432.81,155.15 L433.00,156.75 L433.19,158.30 L433.38,159.82 L433.56,161.33 L433.74,162.82 L433.92,164.31 L434.11,165.81 L434.30,167.34 L434.50,168.90 L434.70,170.49 L434.90,172.08 L435.11,173.69 L435.31,175.29 L435.52,176.90 L435.73,178.51 L435.94,180.11 L436.15,181.70 L436.36,183.27 L436.58,184.84 L436.79,186.38 L437.00,187.90 L437.21,189.41 L437.43,190.91 L437.64,192.41 L437.86,193.90 L438.08,195.37 L438.29,196.83 L438.51,198.27 L438.73,199.69 L438.95,201.09 L439.17,202.46 L439.38,203.79 L439.60,205.10 L439.82,206.39 L440.04,207.66 L440.26,208.93 L440.49,210.18 L440.71,211.40 L440.93,212.59 L441.15,213.75 L441.37,214.87 L441.59,215.94 L441.80,216.95 L442.00,217.91 L442.20,218.80 L442.39,219.63 L442.59,220.40 L442.78,221.12 L442.96,221.79 L443.15,222.42 L443.33,222.99 L443.50,223.53 L443.67,224.03 L443.84,224.49 L444.00,224.92 L444.15,225.33 L444.30,225.70 L444.44,226.04 L444.57,226.34 L444.69,226.59 L444.81,226.81 L444.92,226.99 L445.03,227.14 L445.13,227.26 L445.24,227.36 L445.35,227.42 L445.46,227.47 L445.58,227.49 L445.70,227.50 L445.83,227.50 L445.96,227.49 L446.08,227.46 L446.21,227.42 L446.34,227.35 L446.47,227.25 L446.61,227.11 L446.76,226.94 L446.90,226.71 L447.06,226.44 L447.23,226.10 L447.40,225.70 L447.58,225.24 L447.77,224.74 L447.97,224.19 L448.17,223.59 L448.38,222.95 L448.59,222.26 L448.81,221.52 L449.04,220.73 L449.27,219.89 L449.51,219.01 L449.75,218.08 L450.00,217.10 L450.26,216.05 L450.52,214.92 L450.79,213.71 L451.07,212.44 L451.36,211.13 L451.65,209.78 L451.94,208.41 L452.24,207.02 L452.53,205.64 L452.82,204.26 L453.11,202.91 L453.40,201.60 L453.68,200.29 L453.97,198.96 L454.25,197.60 L454.53,196.24 L454.81,194.88 L455.09,193.52 L455.38,192.19 L455.66,190.88 L455.94,189.61 L456.23,188.38 L456.51,187.21 L456.80,186.10 L457.09,185.05 L457.38,184.04 L457.67,183.08 L457.96,182.16 L458.26,181.27 L458.55,180.41 L458.84,179.59 L459.14,178.79 L459.43,178.01 L459.72,177.26 L460.01,176.52 L460.30,175.80 L460.59,175.10 L460.87,174.42 L461.15,173.76 L461.44,173.13 L461.72,172.53 L462.00,171.94 L462.28,171.38 L462.56,170.84 L462.85,170.33 L463.13,169.83 L463.41,169.36 L463.70,168.90 L463.99,168.47 L464.28,168.05 L464.58,167.67 L464.87,167.30 L465.17,166.96 L465.47,166.63 L465.76,166.33 L466.06,166.04 L466.35,165.78 L466.64,165.54 L466.92,165.31 L467.20,165.10 L467.47,164.91 L467.74,164.74 L468.01,164.59 L468.27,164.46 L468.53,164.35 L468.79,164.26 L469.04,164.18 L469.30,164.13 L469.55,164.09 L469.80,164.08 L470.05,164.08 L470.30,164.10 L470.55,164.13 L470.79,164.18 L471.03,164.24 L471.26,164.32 L471.50,164.41 L471.73,164.53 L471.97,164.67 L472.20,164.84 L472.44,165.03 L472.69,165.25 L472.94,165.51 L473.20,165.80 L473.47,166.13 L473.74,166.52 L474.01,166.94 L474.29,167.39 L474.58,167.88 L474.86,168.38 L475.15,168.90 L475.44,169.43 L475.73,169.96 L476.02,170.49 L476.31,171.00 L476.60,171.50 L476.89,171.99 L477.19,172.49 L477.49,173.00 L477.79,173.51 L478.10,174.02 L478.40,174.53 L478.70,175.04 L479.00,175.55 L479.29,176.05 L479.57,176.54 L479.84,177.03 L480.10,177.50 L480.35,177.95 L480.59,178.37 L480.82,178.78 L481.04,179.17 L481.25,179.55 L481.46,179.94 L481.67,180.33 L481.87,180.74 L482.08,181.18 L482.28,181.65 L482.49,182.15 L482.70,182.70 L482.91,183.29 L483.11,183.90 L483.31,184.53 L483.50,185.19 L483.70,185.87 L483.89,186.57 L484.09,187.30 L484.30,188.05 L484.51,188.82 L484.73,189.62 L484.96,190.45 L485.20,191.30 L485.45,192.19 L485.72,193.12 L485.99,194.08 L486.26,195.08 L486.55,196.10 L486.84,197.14 L487.13,198.19 L487.44,199.24 L487.75,200.30 L488.06,201.35 L488.38,202.38 L488.70,203.40 L489.03,204.41 L489.37,205.43 L489.72,206.45 L490.07,207.47 L490.43,208.49 L490.80,209.51 L491.17,210.53 L491.54,211.53 L491.91,212.52 L492.27,213.50 L492.64,214.46 L493.00,215.40 L493.36,216.32 L493.72,217.22 L494.07,218.11 L494.43,218.99 L494.79,219.85 L495.15,220.71 L495.51,221.55 L495.87,222.39 L496.23,223.22 L496.58,224.05 L496.94,224.88 L497.30,225.70 L497.66,226.54 L498.04,227.40 L498.41,228.27 L498.80,229.15 L499.18,230.02 L499.56,230.88 L499.93,231.71 L500.29,232.51 L500.64,233.27 L500.98,233.98 L501.30,234.62 L501.60,235.20 L501.88,235.70 L502.14,236.15 L502.39,236.54 L502.63,236.87 L502.85,237.17 L503.06,237.43 L503.27,237.66 L503.46,237.87 L503.65,238.06 L503.84,238.24 L504.02,238.42 L504.20,238.60 L504.37,238.78 L504.53,238.94 L504.67,239.09 L504.81,239.23 L504.94,239.34 L505.06,239.44 L505.19,239.52 L505.31,239.59 L505.45,239.62 L505.59,239.64 L505.74,239.63 L505.90,239.60 L506.08,239.55 L506.26,239.49 L506.45,239.42 L506.65,239.33 L506.85,239.22 L507.06,239.08 L507.26,238.91 L507.47,238.71 L507.68,238.48 L507.89,238.20 L508.10,237.87 L508.30,237.50 L508.50,237.08 L508.70,236.61 L508.90,236.11 L509.09,235.57 L509.29,234.99 L509.49,234.37 L509.69,233.72 L509.89,233.03 L510.09,232.32 L510.29,231.57 L510.49,230.80 L510.70,230.00 L510.91,229.16 L511.12,228.26 L511.34,227.31 L511.55,226.33 L511.77,225.31 L511.99,224.27 L512.21,223.21 L512.43,222.15 L512.65,221.09 L512.86,220.04 L513.08,219.01 L513.30,218.00 L513.52,217.01 L513.73,216.04 L513.94,215.06 L514.16,214.10 L514.37,213.13 L514.58,212.16 L514.80,211.19 L515.01,210.21 L515.23,209.23 L515.45,208.23 L515.67,207.22 L515.90,206.20 L516.13,205.14 L516.37,204.03 L516.61,202.89 L516.85,201.73 L517.10,200.55 L517.34,199.39 L517.59,198.24 L517.84,197.12 L518.08,196.04 L518.32,195.02 L518.56,194.07 L518.80,193.20 L519.03,192.40 L519.26,191.66 L519.49,190.96 L519.72,190.31 L519.94,189.70 L520.17,189.13 L520.39,188.60 L520.61,188.10 L520.84,187.64 L521.06,187.20 L521.28,186.79 L521.50,186.40 L521.72,186.04 L521.94,185.70 L522.16,185.40 L522.37,185.13 L522.59,184.89 L522.81,184.68 L523.02,184.50 L523.24,184.36 L523.45,184.25 L523.67,184.17 L523.88,184.12 L524.10,184.10 L524.32,184.11 L524.53,184.15 L524.75,184.22 L524.97,184.33 L525.18,184.46 L525.40,184.62 L525.62,184.83 L525.83,185.06 L526.05,185.34 L526.27,185.65 L526.48,186.00 L526.70,186.40 L526.92,186.84 L527.13,187.32 L527.35,187.84 L527.57,188.41 L527.79,189.01 L528.01,189.64 L528.22,190.31 L528.44,191.01 L528.66,191.75 L528.87,192.51 L529.09,193.29 L529.30,194.10 L529.51,194.94 L529.72,195.83 L529.93,196.76 L530.14,197.71 L530.34,198.70 L530.55,199.72 L530.76,200.75 L530.96,201.81 L531.17,202.87 L531.38,203.95 L531.59,205.02 L531.80,206.10 L532.01,207.18 L532.23,208.28 L532.44,209.38 L532.66,210.50 L532.88,211.64 L533.09,212.78 L533.31,213.94 L533.53,215.11 L533.75,216.29 L533.97,217.48 L534.18,218.68 L534.40,219.90 L534.62,221.13 L534.83,222.38 L535.05,223.66 L535.27,224.94 L535.48,226.24 L535.70,227.54 L535.92,228.86 L536.13,230.17 L536.35,231.49 L536.57,232.80 L536.78,234.10 L537.00,235.40 L537.22,236.70 L537.44,238.02 L537.66,239.36 L537.88,240.70 L538.10,242.04 L538.32,243.37 L538.55,244.69 L538.76,245.99 L538.98,247.27 L539.19,248.52 L539.40,249.73 L539.60,250.90 L539.80,252.04 L540.00,253.16 L540.19,254.26 L540.39,255.34 L540.58,256.40 L540.76,257.42 L540.95,258.42 L541.13,259.39 L541.30,260.33 L541.47,261.22 L541.64,262.08 L541.80,262.90 L541.95,263.63 L542.07,264.26 L542.17,264.81 L542.27,265.30 L542.36,265.75 L542.46,266.19 L542.56,266.65 L542.67,267.15 L542.81,267.71 L542.97,268.35 L543.17,269.11 L543.40,270.00 L543.67,271.03 L543.98,272.17 L544.31,273.40 L544.67,274.71 L545.05,276.09 L545.45,277.51 L545.86,278.96 L546.27,280.43 L546.69,281.89 L547.10,283.34 L547.51,284.74 L547.90,286.10 L548.29,287.41 L548.70,288.71 L549.12,290.00 L549.54,291.27 L549.96,292.55 L550.39,293.83 L550.81,295.11 L551.21,296.40 L551.61,297.72 L551.99,299.05 L552.36,300.41 L552.70,301.80 L553.02,303.22 L553.32,304.68 L553.60,306.16 L553.87,307.66 L554.12,309.17 L554.37,310.70 L554.61,312.24 L554.84,313.78 L555.08,315.32 L555.31,316.86 L555.55,318.38 L555.80,319.90 L556.05,321.42 L556.29,322.95 L556.52,324.48 L556.76,326.03 L556.99,327.57 L557.22,329.11 L557.45,330.64 L557.69,332.15 L557.93,333.65 L558.18,335.13 L558.43,336.58 L558.70,338.00 L558.97,339.38 L559.25,340.74 L559.52,342.06 L559.81,343.36 L560.09,344.64 L560.39,345.91 L560.69,347.17 L560.99,348.43 L561.31,349.70 L561.63,350.98 L561.96,352.28 L562.30,353.60 L562.65,354.95 L563.02,356.34 L563.40,357.75 L563.80,359.17 L564.20,360.60 L564.60,362.03 L565.01,363.44 L565.41,364.83 L565.82,366.19 L566.22,367.51 L566.62,368.78 L567.00,370.00 L567.37,371.15 L567.74,372.25 L568.10,373.31 L568.46,374.32 L568.82,375.31 L569.17,376.27 L569.53,377.22 L569.89,378.16 L570.26,379.10 L570.63,380.05 L571.01,381.01 L571.40,382.00 L571.80,383.01 L572.20,384.02 L572.60,385.04 L573.01,386.06 L573.43,387.08 L573.85,388.10 L574.28,389.12 L574.71,390.13 L575.15,391.14 L575.59,392.13 L576.04,393.12 L576.50,394.10 L576.97,395.07 L577.44,396.04 L577.92,397.00 L578.40,397.96 L578.89,398.92 L579.39,399.86 L579.89,400.80 L580.40,401.73 L580.92,402.64 L581.44,403.54 L581.97,404.43 L582.50,405.30 L583.04,406.16 L583.60,407.02 L584.16,407.86 L584.73,408.70 L585.31,409.53 L585.89,410.34 L586.48,411.14 L587.07,411.92 L587.65,412.68 L588.24,413.41 L588.82,414.12 L589.40,414.80 L589.98,415.46 L590.56,416.09 L591.15,416.70 L591.73,417.29 L592.32,417.86 L592.91,418.41 L593.49,418.93 L594.07,419.44 L594.64,419.94 L595.20,420.41 L595.76,420.86 L596.30,421.30 L596.84,421.72 L597.38,422.10 L597.92,422.47 L598.46,422.81 L598.99,423.14 L599.51,423.44 L600.02,423.74 L600.52,424.02 L601.00,424.30 L601.46,424.57 L601.89,424.83 L602.30,425.10 L602.68,425.35 L603.02,425.56 L603.33,425.75 L603.62,425.93 L603.90,426.10 L604.16,426.26 L604.41,426.44 L604.67,426.63 L604.93,426.84 L605.20,427.08 L605.49,427.37 L605.80,427.70 L606.13,428.08 L606.46,428.49 L606.80,428.94 L607.14,429.41 L607.49,429.91 L607.85,430.43 L608.21,430.96 L608.58,431.51 L608.95,432.06 L609.33,432.61 L609.71,433.16 L610.10,433.70 L610.49,434.25 L610.89,434.82 L611.30,435.40 L611.70,436.00 L612.12,436.60 L612.54,437.21 L612.96,437.81 L613.40,438.40 L613.84,438.98 L614.28,439.54 L614.74,440.09 L615.20,440.60 L615.67,441.09 L616.16,441.57 L616.66,442.04 L617.16,442.49 L617.68,442.93 L618.19,443.36 L618.71,443.78 L619.24,444.19 L619.76,444.58 L620.28,444.96 L620.79,445.34 L621.30,445.70 L621.80,446.05 L622.28,446.39 L622.75,446.71 L623.21,447.02 L623.68,447.32 L624.14,447.61 L624.62,447.89 L625.11,448.16 L625.62,448.43 L626.15,448.69 L626.71,448.94 L627.30,449.20 L627.94,449.45 L628.62,449.69 L629.35,449.92 L630.10,450.15 L630.87,450.37 L631.65,450.58 L632.43,450.79 L633.19,451.00 L633.93,451.20 L634.63,451.40 L635.29,451.60 L635.90,451.80 L636.45,452.00 L636.94,452.19 L637.40,452.38 L637.83,452.57 L638.23,452.75 L638.61,452.93 L638.99,453.11 L639.37,453.29 L639.77,453.47 L640.18,453.64 L640.62,453.82 L641.10,454.00 L641.60,454.18 L642.10,454.35 L642.60,454.52 L643.11,454.69 L643.64,454.86 L644.17,455.03 L644.73,455.20 L645.31,455.37 L645.91,455.55 L646.54,455.73 L647.20,455.91 L647.90,456.10 L648.62,456.29 L649.35,456.48 L650.10,456.68 L650.87,456.87 L651.66,457.07 L652.48,457.27 L653.34,457.48 L654.23,457.69 L655.17,457.91 L656.16,458.13 L657.20,458.36 L658.30,458.60 L659.50,458.85 L660.83,459.12 L662.25,459.40 L663.74,459.70 L665.28,459.99 L666.83,460.29 L668.37,460.59 L669.88,460.88 L671.32,461.16 L672.68,461.43 L673.91,461.67 L675.00,461.90 L675.93,462.10 L676.73,462.28 L677.41,462.45 L678.01,462.60 L678.54,462.74 L679.04,462.87 L679.51,463.00 L680.00,463.13 L680.52,463.26 L681.09,463.39 L681.74,463.54 L682.50,463.70 L683.35,463.87 L684.25,464.05 L685.20,464.23 L686.20,464.42 L687.22,464.61 L688.27,464.81 L689.33,465.00 L690.40,465.19 L691.47,465.38 L692.54,465.56 L693.58,465.73 L694.60,465.90 L695.60,466.06 L696.60,466.22 L697.60,466.37 L698.60,466.53 L699.60,466.67 L700.60,466.82 L701.60,466.96 L702.60,467.10 L703.60,467.23 L704.60,467.36 L705.60,467.48 L706.60,467.60 L707.60,467.71 L708.59,467.82 L709.59,467.92 L710.57,468.02 L711.56,468.11 L712.56,468.20 L713.55,468.29 L714.56,468.37 L715.57,468.45 L716.60,468.54 L717.64,468.62 L718.70,468.70 L719.74,468.78 L720.73,468.86 L721.70,468.94 L722.66,469.02 L723.63,469.10 L724.62,469.18 L725.67,469.25 L726.77,469.32 L727.96,469.39 L729.25,469.46 L730.66,469.53 L732.20,469.60 L733.92,469.67 L735.83,469.73 L737.89,469.79 L740.07,469.85 L742.34,469.91 L744.64,469.96 L746.96,470.02 L749.26,470.07 L751.50,470.13 L753.64,470.19 L755.65,470.24 L757.50,470.30 L759.15,470.36 L760.61,470.42 L761.94,470.48 L763.16,470.54 L764.32,470.60 L765.47,470.66 L766.64,470.72 L767.87,470.77 L769.22,470.83 L770.71,470.89 L772.39,470.95 L774.30,471.00 L776.55,471.06 L779.15,471.11 L782.02,471.17 L785.09,471.23 L788.26,471.29 L791.45,471.34 L794.59,471.40 L797.58,471.45 L800.35,471.49 L802.82,471.54 L804.90,471.57 L806.50,471.60" stroke="#ff0000" stroke-width="3.60"/>
</g>
<g fill="none" stroke-linecap="butt">
<path d="M683.1,30.5H706.4M717.7,30.5H741.1M752.5,30.5H768.1" stroke="#00ff00" stroke-width="1.80"/>
<path d="M683.1,62.6H694.8M712,62.6H723.9M740.8,62.6H752.9" stroke="#0000ff" stroke-width="1.80"/>
<path d="M683.1,94.9H768.1" stroke="#ff0000" stroke-width="3.60"/>
</g>
<path d="M152.50,7.20H806.60V476.80H152.50ZM152.50,476.80v7.60M152.50,7.20v-7.60M174.30,476.80v4.00M174.30,7.20v-4.00M196.11,476.80v4.00M196.11,7.20v-4.00M217.91,476.80v4.00M217.91,7.20v-4.00M239.71,476.80v4.00M239.71,7.20v-4.00M261.52,476.80v7.60M261.52,7.20v-7.60M283.32,476.80v4.00M283.32,7.20v-4.00M305.12,476.80v4.00M305.12,7.20v-4.00M326.93,476.80v4.00M326.93,7.20v-4.00M348.73,476.80v4.00M348.73,7.20v-4.00M370.53,476.80v7.60M370.53,7.20v-7.60M392.34,476.80v4.00M392.34,7.20v-4.00M414.14,476.80v4.00M414.14,7.20v-4.00M435.94,476.80v4.00M435.94,7.20v-4.00M457.75,476.80v4.00M457.75,7.20v-4.00M479.55,476.80v7.60M479.55,7.20v-7.60M501.35,476.80v4.00M501.35,7.20v-4.00M523.16,476.80v4.00M523.16,7.20v-4.00M544.96,476.80v4.00M544.96,7.20v-4.00M566.76,476.80v4.00M566.76,7.20v-4.00M588.57,476.80v7.60M588.57,7.20v-7.60M610.37,476.80v4.00M610.37,7.20v-4.00M632.17,476.80v4.00M632.17,7.20v-4.00M653.98,476.80v4.00M653.98,7.20v-4.00M675.78,476.80v4.00M675.78,7.20v-4.00M697.58,476.80v7.60M697.58,7.20v-7.60M719.39,476.80v4.00M719.39,7.20v-4.00M741.19,476.80v4.00M741.19,7.20v-4.00M762.99,476.80v4.00M762.99,7.20v-4.00M784.80,476.80v4.00M784.80,7.20v-4.00M806.60,476.80v7.60M806.60,7.20v-7.60M152.50,476.80h-7.60M806.60,476.80h7.60M152.50,429.84h-4.00M806.60,429.84h4.00M152.50,382.88h-7.60M806.60,382.88h7.60M152.50,335.92h-4.00M806.60,335.92h4.00M152.50,288.96h-7.60M806.60,288.96h7.60M152.50,242.00h-4.00M806.60,242.00h4.00M152.50,195.04h-7.60M806.60,195.04h7.60M152.50,148.08h-4.00M806.60,148.08h4.00M152.50,101.12h-7.60M806.60,101.12h7.60M152.50,54.16h-4.00M806.60,54.16h4.00M152.50,7.20h-7.60M806.60,7.20h7.60" fill="none" stroke="#000" stroke-width="1.35" stroke-linecap="butt" stroke-linejoin="miter"/>
<g stroke="#000" stroke-width="0.30" stroke-linejoin="round" opacity="0.999">
<text transform="translate(125.60,488.75) scale(1,1.085)" font-size="32" text-anchor="end">0</text>
<text transform="translate(125.60,394.83) scale(1,1.085)" font-size="32" text-anchor="end">2</text>
<text transform="translate(125.60,300.91) scale(1,1.085)" font-size="32" text-anchor="end">4</text>
<text transform="translate(125.60,206.99) scale(1,1.085)" font-size="32" text-anchor="end">6</text>
<text transform="translate(125.60,113.07) scale(1,1.085)" font-size="32" text-anchor="end">8</text>
<text transform="translate(107.81,19.15) scale(1,1.085)" font-size="32">0</text>
<text transform="translate(157.00,527.30) scale(1,1.085)" font-size="32" text-anchor="middle">0</text>
<text transform="translate(266.02,527.30) scale(1,1.085)" font-size="32" text-anchor="middle">5</text>
<text transform="translate(375.03,527.30) scale(1,1.085)" font-size="32">0</text>
<text transform="translate(484.05,527.30) scale(1,1.085)" font-size="32">5</text>
<text transform="translate(593.07,527.30) scale(1,1.085)" font-size="32" text-anchor="middle">20</text>
<text transform="translate(702.08,527.30) scale(1,1.085)" font-size="32" text-anchor="middle">25</text>
<text transform="translate(811.10,527.30) scale(1,1.085)" font-size="32" text-anchor="middle">30</text>
<text transform="translate(421.00,574.70) scale(1,1.040)" font-size="32">E (MeV)</text>
<text transform="translate(232.23,98.60) scale(1,1.040)" font-size="25.6">7</text>
<text transform="translate(246.47,98.60) scale(1,1.040)" font-size="25.6">2</text>
<text transform="translate(261.70,114.60) scale(1,1.040)" font-size="32">Yb</text>
<text transform="translate(655.50,44.60) scale(1,1.060)" font-size="32" text-anchor="end">0</text>
<rect x="656.5" y="20.7" width="6.5" height="2.1" stroke="none"/>
<rect x="656.5" y="52.4" width="6.5" height="2.1" stroke="none"/>
<text transform="translate(663.70,105.90) scale(1,1.040)" font-size="32" text-anchor="end">total</text>
<g transform="translate(43.30,358.80) rotate(-90)">
<text transform="translate(0.00,0.00) scale(1,1.040)" font-size="32">S</text>
<text transform="translate(21.34,-16.20) scale(1,1.040)" font-size="25.6">IV</text>
<text transform="translate(21.34,10.40) scale(1,1.040)" font-size="25.6">E</text>
<path d="M45.11,10.40 L42.86,10.40 L42.86,-2.92 L38.53,-2.92 L38.53,-4.58 C41.01,-4.89 42.58,-5.42 43.62,-8.29 L45.11,-8.29 Z" stroke="none"/>
<text transform="translate(62.15,0.00) scale(1,1.040)" font-size="32">(fm</text>
<text transform="translate(108.36,-16.20) scale(1,1.040)" font-size="25.6">2</text>
<text transform="translate(122.59,0.00) scale(1,1.040)" font-size="32">/MeV)</text>
</g>
<path d="M101.50,19.15 L98.69,19.15 L98.69,1.78 L93.28,1.78 L93.28,-0.39 C96.38,-0.80 98.34,-1.49 99.65,-5.24 L101.50,-5.24 Z M368.73,527.30 L365.91,527.30 L365.91,509.93 L360.51,509.93 L360.51,507.76 C363.61,507.35 365.56,506.66 366.87,502.91 L368.73,502.91 Z M477.75,527.30 L474.93,527.30 L474.93,509.93 L469.52,509.93 L469.52,507.76 C472.63,507.35 474.58,506.66 475.89,502.91 L477.75,502.91 Z M227.19,98.60 L224.94,98.60 L224.94,85.28 L220.61,85.28 L220.61,83.62 C223.09,83.31 224.66,82.78 225.71,79.91 L227.19,79.91 Z M649.20,76.70 L646.38,76.70 L646.38,60.06 L640.97,60.06 L640.97,57.98 C644.08,57.58 646.03,56.92 647.34,53.33 L649.20,53.33 Z" stroke="none"/>
</g>
</svg></body></html>
